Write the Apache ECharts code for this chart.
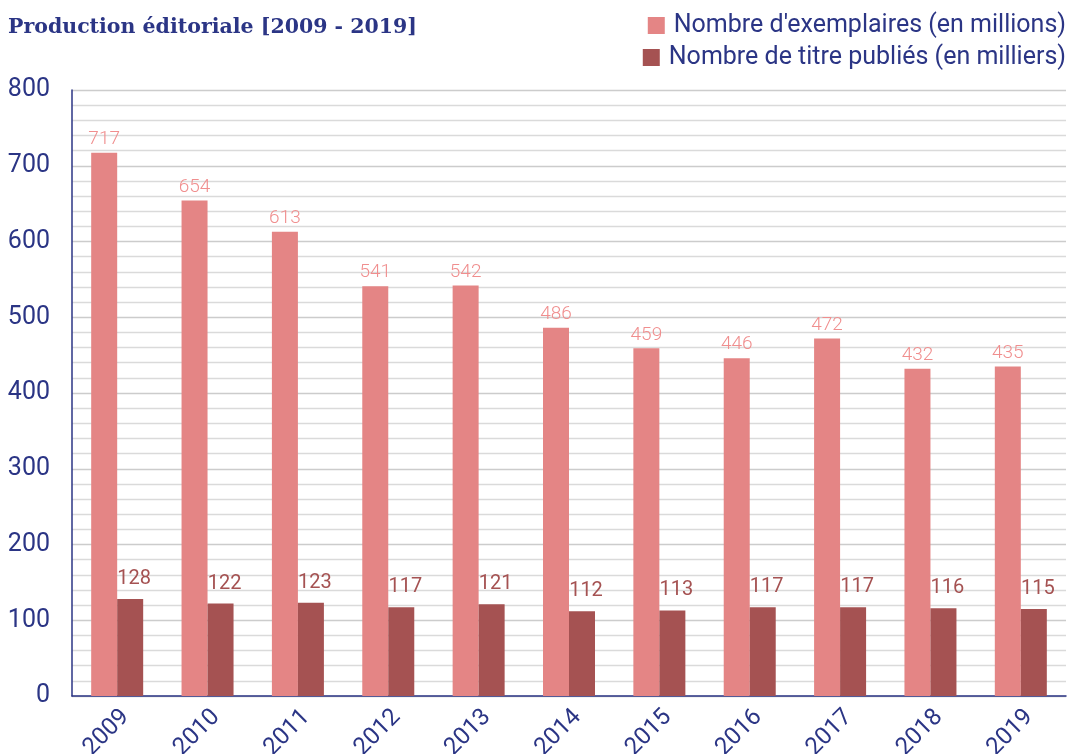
<!DOCTYPE html>
<html>
<head>
<meta charset="utf-8">
<script src="https://cdn.jsdelivr.net/npm/echarts@6/dist/echarts.min.js"></script>
<style>
html,body{margin:0;padding:0;background:#fff;}
#chart{width:1069px;height:754px;}
</style>
</head>
<body>
<div id="chart"></div>
<script>
const years = ['2009','2010','2011','2012','2013','2014','2015','2016','2017','2018','2019'];
const exemplaires = [717,654,613,541,542,486,459,446,472,432,435];
const titres = [128,122,123,117,121,112,113,117,117,116,115];
const yTicks = [0,100,200,300,400,500,600,700,800];

const navy = '#2b3585';
const chart = echarts.init(document.getElementById('chart'));
chart.setOption({
  animation: false,
  title: {
    text: 'Production éditoriale [2009 - 2019]',
    left: 3, top: 12,
    textStyle: {fontFamily: 'DejaVu Serif', fontWeight: 'bold', fontSize: 20.5, color: navy}
  },
  legend: [
    {data: ['Nombre d\'exemplaires (en millions)'], right: -2, top: 8, icon: 'rect', itemWidth: 17, itemHeight: 17, itemGap: 12,
     textStyle: {fontFamily: 'Roboto', fontSize: 25, color: navy, padding: [0,0,0,4]}},
    {data: ['Nombre de titre publiés (en milliers)'], right: -2, top: 40, icon: 'rect', itemWidth: 17, itemHeight: 17,
     textStyle: {fontFamily: 'Roboto', fontSize: 25, color: navy, padding: [0,0,0,4]}}
  ],
  grid: {left: 72, right: 3, top: 90, bottom: 58, containLabel: false, outerBoundsMode: 'none'},
  xAxis: {
    type: 'category', data: years,
    axisLine: {lineStyle: {color: navy, width: 1.5}},
    axisTick: {show: false},
    axisLabel: {rotate: 45, fontFamily: 'Roboto', fontSize: 24, lineHeight: 24, color: navy, margin: 9,
      formatter: v => '\n' + v}
  },
  yAxis: {
    type: 'value', min: yTicks[0], max: yTicks[yTicks.length-1], interval: 100,
    axisLine: {show: true, lineStyle: {color: navy, width: 1.5}},
    axisTick: {show: false},
    axisLabel: {fontFamily: 'Roboto', fontSize: 25, color: navy, margin: 22},
    splitLine: {lineStyle: {color: '#cccccc', width: 1.3}},
    minorTick: {show: false, splitNumber: 5},
    minorSplitLine: {show: true, lineStyle: {color: '#dadada', width: 1.3}}
  },
  series: [
    {name: 'Nombre d\'exemplaires (en millions)', type: 'bar', data: exemplaires,
     barWidth: 26, barGap: '0%', itemStyle: {color: '#e48585'},
     label: {show: true, position: 'top', distance: 4, fontFamily: 'Roboto', fontWeight: 300, fontSize: 19, color: '#f08e8e'}},
    {name: 'Nombre de titre publiés (en milliers)', type: 'bar', data: titres,
     barWidth: 26, itemStyle: {color: '#a55252'},
     label: {show: true, position: 'top', distance: 10, offset: [4, 0], fontFamily: 'Roboto', fontSize: 20, color: '#a55252'}}
  ]
});
</script>
</body>
</html>
